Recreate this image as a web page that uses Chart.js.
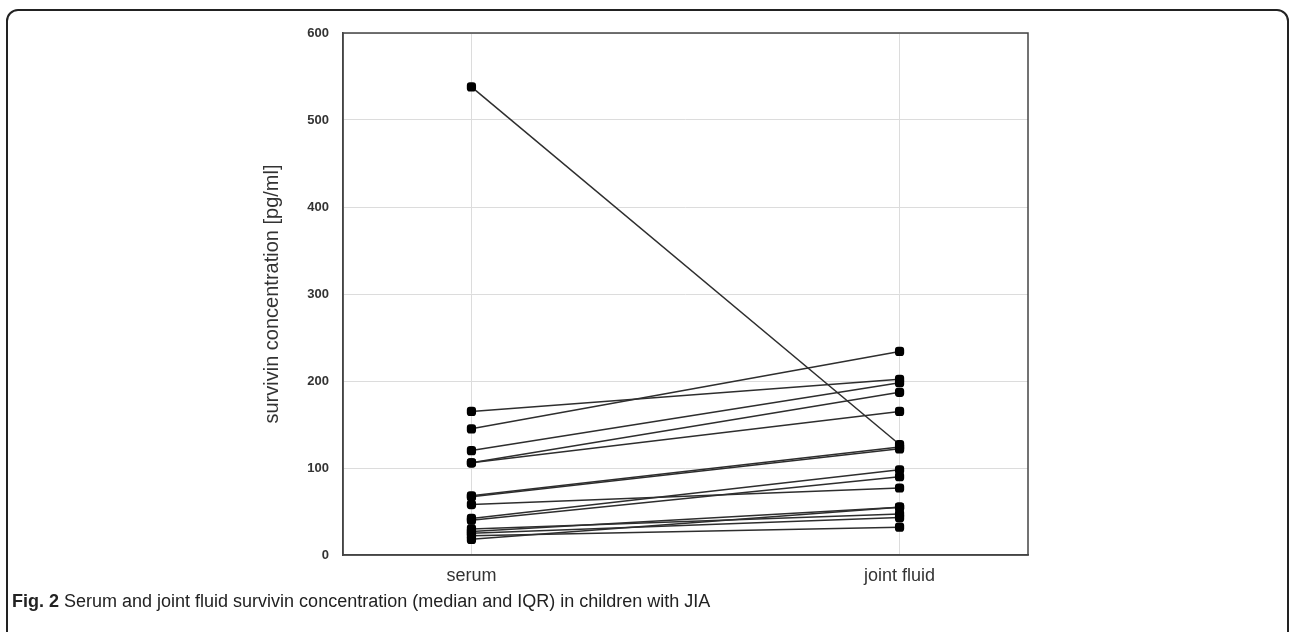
<!DOCTYPE html>
<html>
<head>
<meta charset="utf-8">
<script src="https://cdn.jsdelivr.net/npm/chart.js@4.4.1/dist/chart.umd.min.js"></script>
<style>
  html, body { margin: 0; padding: 0; background: #fff; }
  body { width: 1292px; height: 632px; position: relative; overflow: hidden; }
  #frame {
    position: absolute; left: 6px; top: 9px; width: 1283px; height: 660px;
    border: 2px solid #222; border-radius: 12px; box-sizing: border-box;
  }
  #wrap { position: absolute; left: 0; top: 0; width: 1292px; height: 632px; }
  #caption {
    position: absolute; left: 12px; top: 591px;
    font-family: "Liberation Sans", Arial, sans-serif;
    font-size: 18px; color: #222; white-space: nowrap;
  }
  #caption b { font-weight: bold; }
</style>
</head>
<body>
<div id="frame"></div>
<div id="wrap"><canvas id="chart" width="1292" height="632"></canvas></div>
<div id="caption"><b>Fig. 2</b> Serum and joint fluid survivin concentration (median and IQR) in children with JIA</div>
<script>
// categories on x, paired values per child
const categories = ['serum', 'joint fluid'];
const serumValues = [538, 165, 145, 120, 106, 106, 68, 67, 58, 42, 40, 30, 27, 25, 22, 18];
const jointValues = [127, 202, 234, 198, 187, 165, 124, 122, 77, 98, 90, 47, 55, 43, 32, 55];
const yTicks = [0, 100, 200, 300, 400, 500, 600];

// one dataset per child: serum -> joint fluid
const datasets = serumValues.map((s, i) => ({
    data: [{ x: 0, y: s }, { x: 1, y: jointValues[i] }],
    borderColor: '#2e2e2e',
    borderWidth: 1.5,
    backgroundColor: '#000',
    pointBackgroundColor: '#000',
    pointBorderColor: '#000',
    pointRadius: 4.5,
    pointStyle: 'rectRounded',
    showLine: true
}));

// plot box border (top/right aren't drawn by the axes)
const boxBorder = {
    id: 'boxBorder',
    afterDraw(chart) {
        const { ctx, chartArea: a } = chart;
        ctx.save();
        ctx.strokeStyle = '#444';
        ctx.lineWidth = 1.5;
        ctx.strokeRect(a.left, a.top, a.right - a.left, a.bottom - a.top);
        ctx.restore();
    }
};

new Chart(document.getElementById('chart'), {
    type: 'scatter',
    data: { datasets: datasets },
    options: {
        responsive: false,
        animation: false,
        layout: { padding: { left: 0, right: 264, top: 33, bottom: 0 } },
        plugins: { legend: { display: false }, tooltip: { enabled: false } },
        scales: {
            x: {
                type: 'linear',
                min: -0.3,
                max: 1.3,
                afterBuildTicks: (scale) => { scale.ticks = [{ value: 0 }, { value: 1 }]; },
                afterFit: (scale) => { scale.height = 77; },
                ticks: {
                    callback: (v) => categories[v] !== undefined ? categories[v] : '',
                    color: '#333',
                    font: { family: 'Liberation Sans, Arial, sans-serif', size: 18 },
                    padding: 10
                },
                grid: { color: '#dcdcdc', drawTicks: false },
                border: { color: '#444', width: 1.5 }
            },
            y: {
                min: 0,
                max: 600,
                afterBuildTicks: (scale) => { scale.ticks = yTicks.map(v => ({ value: v })); },
                afterFit: (scale) => { scale.width = 343; },
                ticks: {
                    color: '#333',
                    font: { family: 'Liberation Sans, Arial, sans-serif', size: 13, weight: 'bold' },
                    padding: 14
                },
                grid: { color: '#dcdcdc', drawTicks: false },
                border: { color: '#444', width: 1.5 },
                title: {
                    display: true,
                    text: 'survivin concentration [pg/ml]',
                    color: '#333',
                    font: { family: 'Liberation Sans, Arial, sans-serif', size: 20 },
                    padding: { top: 260, bottom: 0 }
                }
            }
        }
    },
    plugins: [boxBorder]
});
</script>
</body>
</html>
